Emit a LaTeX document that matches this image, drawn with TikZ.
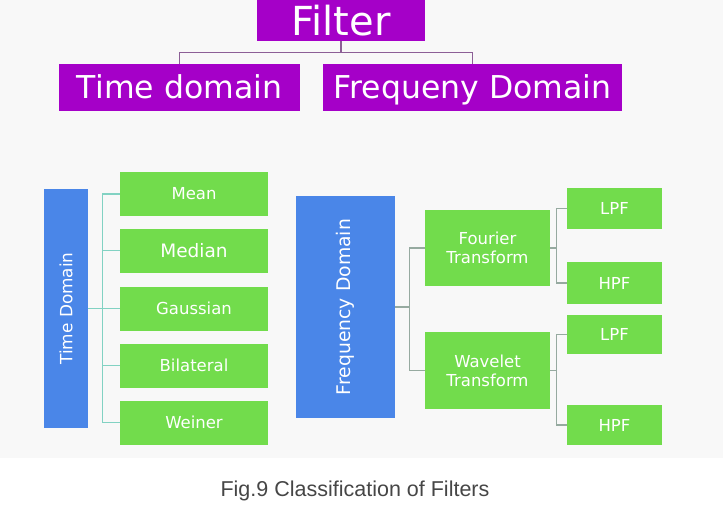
\documentclass[tikz,border=0pt]{standalone}
\usepackage{fontspec}
\setmainfont{DejaVu Sans}
\newfontfamily\capfont{Liberation Sans}
\definecolor{purp}{RGB}{165,0,200}
\definecolor{bluebox}{RGB}{74,134,232}
\definecolor{greenbox}{RGB}{114,220,76}
\definecolor{tealline}{RGB}{130,210,195}
\definecolor{grayline}{RGB}{150,170,160}
\definecolor{purpline}{RGB}{140,95,150}
\definecolor{bg}{RGB}{248,248,248}
\definecolor{captext}{RGB}{70,70,70}
\begin{document}
\begin{tikzpicture}[x=1pt,y=-1pt,
  pbox/.style={fill=purp,text=white,inner sep=0pt,font=\fontsize{31.5}{34}\selectfont},
  bbox/.style={fill=bluebox,text=white,inner sep=0pt},
  gbox/.style={fill=greenbox,text=white,inner sep=0pt,align=center,font=\fontsize{16.5}{19}\selectfont},
  tline/.style={draw=tealline,line width=1.2pt},
  gline/.style={draw=grayline,line width=1.1pt},
  pline/.style={draw=purpline,line width=1.1pt}]
\useasboundingbox (0,0) rectangle (723,511);
\fill[white] (0,0) rectangle (723,511);
\fill[bg] (0,0) rectangle (723,458);
% top
\node[pbox,minimum width=168pt,minimum height=41pt,font=\fontsize{40}{42}\selectfont] (filter) at (341,20.5) {Filter};
\node[pbox,minimum width=241pt,minimum height=47pt,text height=27pt,text depth=5pt] (td) at (179.5,87.5) {Time domain};
\node[pbox,minimum width=299pt,minimum height=47pt,text height=27pt,text depth=5pt] (fd) at (472.5,87.5) {Frequeny Domain};
\draw[pline] (filter.south) -- ++(0,11) -| (td.north);
\draw[pline] (filter.south) ++(0,11) -| (fd.north);
% left tree
\node[bbox,minimum width=44pt,minimum height=239pt] (tdb) at (66,308.5) {};
\node[text=white,rotate=90,font=\fontsize{16.9}{19}\selectfont] at (tdb.center) {Time Domain};
\node[gbox,minimum width=148pt,minimum height=44pt] (mean) at (194,194) {Mean};
\node[gbox,minimum width=148pt,minimum height=44pt,font=\fontsize{18.5}{21}\selectfont] (median) at (194,250.5) {Median};
\node[gbox,minimum width=148pt,minimum height=44pt] (gauss) at (194,308.5) {Gaussian};
\node[gbox,minimum width=148pt,minimum height=44pt] (bilat) at (194,365.5) {Bilateral};
\node[gbox,minimum width=148pt,minimum height=44pt] (weiner) at (194,422.5) {Weiner};
\draw[tline] (tdb.east) -- (gauss.west);
\draw[tline] (mean.west) -- ++(-17,0) |- (weiner.west);
\draw[tline] (median.west) -- ++(-17,0);
\draw[tline] (bilat.west) -- ++(-17,0);
% right tree
\node[bbox,minimum width=99pt,minimum height=222pt] (fdb) at (345.5,307) {};
\node[text=white,rotate=90,font=\fontsize{18.8}{21}\selectfont] at (fdb.center) {Frequency Domain};
\node[gbox,minimum width=125pt,minimum height=76pt] (four) at (487.5,248) {Fourier\\Transform};
\node[gbox,minimum width=125pt,minimum height=77pt] (wave) at (487.5,370.5) {Wavelet\\Transform};
\node[gbox,minimum width=95pt,minimum height=41pt] (lpf1) at (614.5,208.5) {LPF};
\node[gbox,minimum width=95pt,minimum height=42pt] (hpf1) at (614.5,283) {HPF};
\node[gbox,minimum width=95pt,minimum height=39pt] (lpf2) at (614.5,334.5) {LPF};
\node[gbox,minimum width=95pt,minimum height=40pt] (hpf2) at (614.5,425) {HPF};
\draw[gline] (fdb.east) -- ++(15,0);
\draw[gline] (four.west) -- ++(-15,0) |- (wave.west);
\draw[gline] (four.east) -- ++(7,0);
\draw[gline] (lpf1.west) -- ++(-10,0) |- (hpf1.west);
\draw[gline] (wave.east) -- ++(7,0);
\draw[gline] (lpf2.west) -- ++(-10,0) |- (hpf2.west);
% caption
\node[text=captext,font=\capfont\fontsize{21.5}{24}\selectfont,inner sep=0pt] (cap) at (355,491) {Fig.9 Classification of Filters};
\end{tikzpicture}
\end{document}
